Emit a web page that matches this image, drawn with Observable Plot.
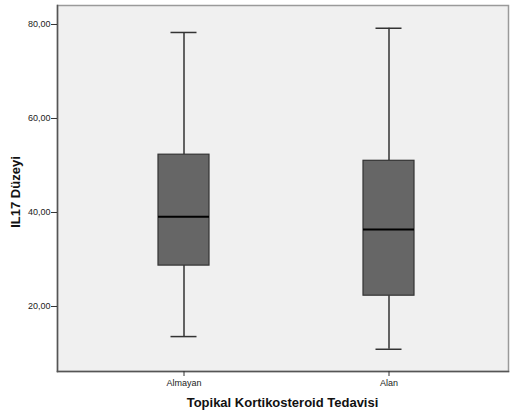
<!DOCTYPE html>
<html>
<head>
<meta charset="utf-8">
<script src="https://cdn.jsdelivr.net/npm/d3@7"></script>
<script src="https://cdn.jsdelivr.net/npm/@observablehq/plot@0.6"></script>
<style>
  html, body { margin: 0; padding: 0; background: #fff; }
  #chart svg { display: block; }
</style>
</head>
<body>
<div id="chart"></div>
<script>
const groups = ["Almayan", "Alan"];
const whiskerLow = [13.6, 10.9];
const q1 = [28.7, 22.3];
const median = [39.1, 36.4];
const q3 = [52.3, 51.0];
const whiskerHigh = [78.3, 79.2];
const yTicks = [20, 40, 60, 80];
const xTitle = "Topikal Kortikosteroid Tedavisi";
const yTitle = "IL17 Düzeyi";

const data = groups.map((g, i) => ({
  group: g, lo: whiskerLow[i], q1: q1[i], med: median[i], q3: q3[i], hi: whiskerHigh[i]
}));

const W = 510, H = 414;
const mL = 57, mR = 2, mT = 5, mB = 43;

const plot = Plot.plot({
  width: W,
  height: H,
  marginLeft: mL,
  marginRight: mR,
  marginTop: mT,
  marginBottom: mB,
  style: { fontFamily: "Liberation Sans, Arial, sans-serif", fontSize: "9px", color: "#222", background: "white" },
  x: { type: "band", domain: groups, range: [157.5, 414.5], paddingInner: 0.7524, paddingOuter: 0, label: null },
  y: { domain: [6.17, 84.04], label: null },
  marks: [
    Plot.frame({ fill: "#f0f0f0", stroke: "#9a9a9a", strokeWidth: 1.5 }),
    Plot.frame({ anchor: "left", stroke: "#555", strokeWidth: 1.5 }),
    Plot.frame({ anchor: "bottom", stroke: "#555", strokeWidth: 1.5 }),
    Plot.ruleX(data, { x: "group", y1: "lo", y2: "q1", stroke: "#333", strokeWidth: 1.5 }),
    Plot.ruleX(data, { x: "group", y1: "q3", y2: "hi", stroke: "#333", strokeWidth: 1.5 }),
    Plot.tickY(data, { x: "group", y: "lo", stroke: "#333", strokeWidth: 1.5, insetLeft: 12.5, insetRight: 12.5 }),
    Plot.tickY(data, { x: "group", y: "hi", stroke: "#333", strokeWidth: 1.5, insetLeft: 12.5, insetRight: 12.5 }),
    Plot.barY(data, { x: "group", y1: "q1", y2: "q3", fill: "#666666", stroke: "#333", strokeWidth: 1.2 }),
    Plot.tickY(data, { x: "group", y: "med", stroke: "#000", strokeWidth: 2 }),
    Plot.axisY({ ticks: yTicks, tickSize: 6, tickPadding: 1, stroke: "#333",
      tickFormat: d => d.toFixed(2).replace(".", ","), label: null }),
    Plot.axisX({ tickSize: 5, tickPadding: 3, stroke: "#333", label: null })
  ]
});

const svg = d3.select(plot);
svg.append("text")
  .attr("x", (mL + W - mR) / 2)
  .attr("y", 407)
  .attr("text-anchor", "middle")
  .style("font-family", "Liberation Sans, Arial, sans-serif")
  .style("font-size", "13px")
  .style("font-weight", "bold")
  .attr("fill", "#111")
  .text(xTitle);
svg.append("text")
  .attr("transform", `translate(20, 192) rotate(-90)`)
  .attr("text-anchor", "middle")
  .style("font-family", "Liberation Sans, Arial, sans-serif")
  .style("font-size", "13px")
  .style("font-weight", "bold")
  .attr("fill", "#111")
  .text(yTitle);

document.getElementById("chart").appendChild(plot);
</script>
</body>
</html>
